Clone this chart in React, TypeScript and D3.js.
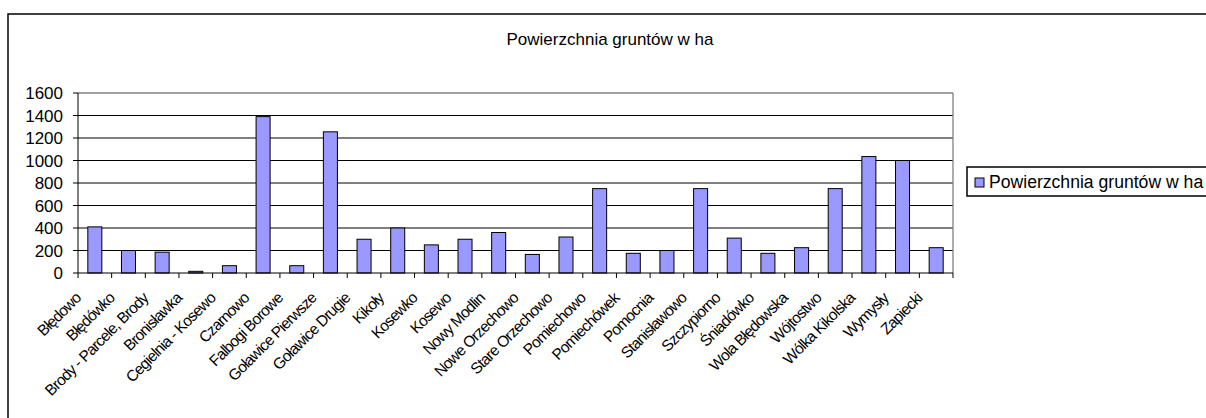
import React from "react";
import * as d3 from "d3";

const categories = [
  "Błędowo", "Błędówko", "Brody - Parcele, Brody", "Bronisławka", "Cegielnia - Kosewo",
  "Czarnowo", "Falbogi Borowe", "Goławice Pierwsze", "Goławice Drugie", "Kikoły",
  "Kosewko", "Kosewo", "Nowy Modlin", "Nowe Orzechowo", "Stare Orzechowo",
  "Pomiechowo", "Pomiechówek", "Pomocnia", "Stanisławowo", "Szczypiorno",
  "Śniadówko", "Wola Błędowska", "Wójtostwo", "Wólka Kikolska", "Wymysły", "Zapiecki",
];
const values = [
  410, 200, 185, 15, 65,
  1390, 65, 1255, 300, 400,
  250, 300, 360, 165, 320,
  750, 175, 200, 750, 310,
  175, 225, 750, 1035, 1000, 225,
];
const yTicks = [0, 200, 400, 600, 800, 1000, 1200, 1400, 1600];
const seriesName = "Powierzchnia gruntów w ha";
const title = "Powierzchnia gruntów w ha";

const FONT = "'Liberation Sans', Arial, sans-serif";
const BAR = "#9999FF";

export default function App() {
  const W = 1206, H = 418;
  const left = 78, right = 953, top = 93, bottom = 273;
  const x = d3.scaleBand<string>().domain(categories).range([left, right]).paddingInner(0).paddingOuter(0);
  const y = d3.scaleLinear().domain([0, 1600]).range([bottom, top]);
  const cw = x.bandwidth();
  const bw = cw / 2.4;

  return (
    <svg width={W} height={H} style={{ position: "absolute", left: 0, top: 0, background: "#fff" }} fontFamily={FONT}>
      <rect x={0} y={0} width={W} height={H} fill="#fff" />
      {/* chart area border */}
      <rect x={8} y={14} width={1230} height={430} fill="none" stroke="#000" strokeWidth={1.5} />
      {/* title */}
      <text x={610} y={45} textAnchor="middle" fontSize={17} fill="#000">{title}</text>
      {/* gridlines */}
      {yTicks.filter(t => t > 0 && t < 1600).map(t => (
        <line key={t} x1={left} x2={right} y1={y(t)} y2={y(t)} stroke="#000" strokeWidth={1} />
      ))}
      {/* plot border top/right */}
      <line x1={left} x2={right} y1={y(1600)} y2={y(1600)} stroke="#808080" strokeWidth={1.3} />
      <line x1={right} x2={right} y1={top} y2={bottom} stroke="#808080" strokeWidth={1.3} />
      {/* bars */}
      {categories.map((c, i) => {
        const cx = (x(c) as number) + cw / 2;
        return (
          <rect key={c} x={cx - bw / 2} y={y(values[i])} width={bw} height={bottom - y(values[i])}
            fill={BAR} stroke="#000" strokeWidth={1} />
        );
      })}
      {/* y axis */}
      <line x1={left} x2={left} y1={top} y2={bottom} stroke="#000" strokeWidth={1} />
      {yTicks.map(t => (
        <g key={t}>
          <line x1={left - 5} x2={left} y1={y(t)} y2={y(t)} stroke="#000" strokeWidth={1} />
          <text x={63} y={y(t)} dy="0.36em" textAnchor="end" fontSize={17} fill="#000">{t}</text>
        </g>
      ))}
      {/* x axis */}
      <line x1={left} x2={right} y1={bottom} y2={bottom} stroke="#000" strokeWidth={1} />
      {categories.map(c => (
        <line key={"t" + c} x1={x(c) as number} x2={x(c) as number} y1={bottom} y2={bottom + 5} stroke="#000" strokeWidth={1} />
      ))}
      <line x1={right} x2={right} y1={bottom} y2={bottom + 5} stroke="#000" strokeWidth={1} />
      {categories.map(c => {
        const cx = (x(c) as number) + cw / 2;
        const ax = cx - 13, ay = bottom + 26;
        return (
          <text key={"l" + c} x={ax} y={ay} textAnchor="end" fontSize={15.5} letterSpacing={-0.8} fill="#000"
            transform={`rotate(-45 ${ax} ${ay})`}>{c}</text>
        );
      })}
      {/* legend */}
      <rect x={967} y={167} width={260} height={29} fill="#fff" stroke="#000" strokeWidth={1.5} />
      <rect x={975} y={178} width={9} height={9} fill={BAR} stroke="#000" strokeWidth={1} />
      <text x={989} y={188} fontSize={17.6} fill="#000">{seriesName}</text>
    </svg>
  );
}
